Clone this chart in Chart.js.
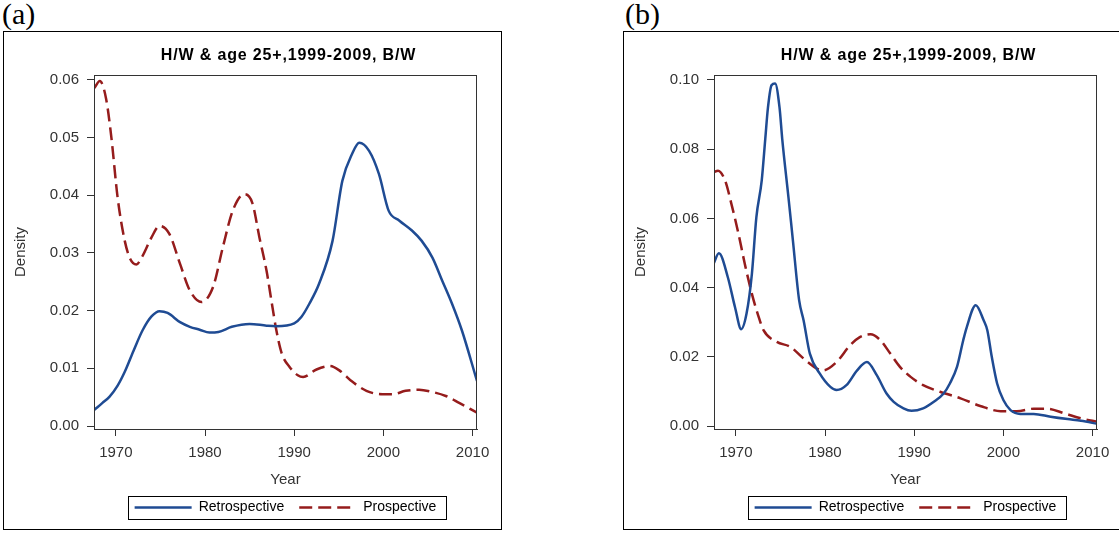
<!DOCTYPE html>
<html><head><meta charset="utf-8">
<script src="https://cdn.jsdelivr.net/npm/chart.js@4.4.1/dist/chart.umd.min.js"></script>
<style>
html,body{margin:0;padding:0;background:#fff;width:1119px;height:533px;overflow:hidden;position:relative;}
.panel{position:absolute;top:31px;width:497px;height:497px;border:1px solid #000;}
.panel canvas{display:block;}
.lab{position:absolute;top:-1px;font-family:"Liberation Serif","Times New Roman",serif;font-size:30px;line-height:30px;color:#000;}
</style></head><body>
<div class="lab" style="left:2px">(a)</div>
<div class="lab" style="left:625px">(b)</div>
<div class="panel" style="left:3px"><canvas id="ca" width="497" height="497"></canvas></div>
<div class="panel" style="left:623px"><canvas id="cb" width="497" height="497"></canvas></div>
<script>
// ---- data ----
const chartTitle = 'H/W & age 25+,1999-2009, B/W';
const seriesNames = ['Retrospective', 'Prospective'];
const xTickValues = [1970, 1980, 1990, 2000, 2010];
const yTicksA = [0, 0.01, 0.02, 0.03, 0.04, 0.05, 0.06];
const yTicksB = [0, 0.02, 0.04, 0.06, 0.08, 0.10];

const aRetroYears = [1967.6,1968.5,1969.3,1970.2,1971.0,1972.0,1973.0,1974.0,1974.9,1975.8,1977.2,1978.3,1979.4,1980.5,1981.5,1983.0,1985.0,1986.9,1988.0,1990.0,1990.8,1991.7,1992.8,1994.3,1995.4,1996.5,1997.3,1998.4,1999.5,2000.6,2001.8,2003.2,2004.3,2005.5,2006.6,2007.7,2008.8,2010.5];
const aRetroDensity = [0.0028,0.0040,0.0051,0.0070,0.0094,0.0131,0.0166,0.0190,0.0199,0.0196,0.0180,0.0172,0.0167,0.0162,0.0163,0.0172,0.0177,0.0174,0.0173,0.0178,0.0189,0.0212,0.0247,0.0321,0.0425,0.0472,0.0491,0.0477,0.0437,0.0373,0.0356,0.0339,0.0321,0.0292,0.0252,0.0212,0.0166,0.0078];

const aProspYears = [1967.6,1968.2,1968.9,1969.5,1970.2,1971.0,1971.6,1972.3,1973.0,1974.0,1974.9,1976.0,1977.2,1978.3,1979.6,1980.9,1982.0,1983.1,1984.4,1985.3,1986.1,1986.9,1987.5,1988.0,1988.6,1989.5,1990.4,1991.0,1992.5,1994.0,1995.1,1996.5,1998.1,1999.9,2001.0,2002.5,2004.0,2005.5,2007.0,2008.5,2010.5];
const aProspDensity = [0.0586,0.0598,0.0568,0.0500,0.0396,0.0321,0.0290,0.0280,0.0295,0.0327,0.0347,0.0333,0.0281,0.0235,0.0215,0.0241,0.0310,0.0373,0.0402,0.0387,0.0327,0.0269,0.0212,0.0166,0.0126,0.0102,0.0088,0.0085,0.0098,0.0104,0.0096,0.0077,0.0061,0.0055,0.0055,0.0061,0.0063,0.0059,0.0052,0.0040,0.0023];

const bRetroYears = [1967.5,1968.1,1969.1,1969.9,1970.6,1971.2,1971.8,1972.3,1972.9,1973.3,1973.6,1974.0,1974.4,1974.9,1975.2,1975.9,1976.4,1977.1,1977.6,1978.3,1979.4,1980.6,1981.3,1982.4,1983.6,1984.7,1985.8,1986.9,1987.7,1988.8,1989.7,1991.0,1992.2,1993.3,1994.0,1994.8,1995.5,1995.9,1996.9,1997.8,1998.2,1998.7,1999.3,2000.0,2000.8,2001.9,2003.4,2005.3,2007.2,2008.7,2010.6];
const bRetroDensity = [0.0469,0.0499,0.0430,0.0344,0.0280,0.0325,0.0440,0.0603,0.0709,0.0830,0.0920,0.0985,0.0990,0.0920,0.0830,0.0661,0.0536,0.0363,0.0305,0.0209,0.0152,0.0113,0.0104,0.0118,0.0161,0.0185,0.0147,0.0094,0.0070,0.0051,0.0044,0.0051,0.0070,0.0094,0.0123,0.0171,0.0248,0.0286,0.0349,0.0305,0.0277,0.0200,0.0123,0.0075,0.0046,0.0035,0.0035,0.0027,0.0020,0.0015,0.0006];

const bProspYears = [1967.5,1968.0,1968.8,1969.5,1970.3,1971.0,1971.8,1972.5,1973.1,1974.6,1976.1,1977.6,1979.1,1979.8,1981.3,1982.8,1983.9,1985.1,1986.2,1987.3,1988.4,1989.6,1991.0,1992.9,1995.2,1997.4,1999.7,2001.5,2003.4,2004.9,2006.8,2008.7,2010.6];
const bProspDensity = [0.0733,0.0738,0.0709,0.0642,0.0555,0.0469,0.0382,0.0320,0.0277,0.0243,0.0229,0.0195,0.0166,0.0161,0.0185,0.0233,0.0257,0.0265,0.0248,0.0210,0.0171,0.0142,0.0118,0.0099,0.0080,0.0058,0.0043,0.0043,0.0050,0.0050,0.0037,0.0022,0.0012];

// ---- drawing ----
Chart.defaults.font.family = '"Liberation Sans", Arial, Helvetica, sans-serif';
Chart.defaults.color = '#333';
const BLUE = '#1f4b93';
const RED = '#951c1c';

const toPts = (xs, ys) => xs.map((x, i) => ({x: x, y: ys[i]}));

const framePlugin = {
  id: 'frameBox',
  afterDraw(chart) {
    const ctx = chart.ctx, a = chart.chartArea;
    ctx.save();
    ctx.strokeStyle = '#333';
    ctx.lineWidth = 1;
    ctx.strokeRect(Math.round(a.left) + 0.5, Math.round(a.top) + 0.5, Math.round(a.right - a.left) - 1, Math.round(a.bottom - a.top));
    const lg = chart.legend;
    if (lg && lg.legendHitBoxes && lg.legendHitBoxes.length) {
      const hb = lg.legendHitBoxes;
      const first = hb[0], last = hb[hb.length - 1];
      const left = first.left - 7;
      const right = last.left + last.width + 9;
      const cy = first.top + 7;
      ctx.strokeStyle = '#000';
      ctx.strokeRect(Math.round(left) + 0.5, Math.round(cy - 11.5) + 0.5, Math.round(right - left), 23);
    }
    ctx.restore();
  }
};

function legendLabels(chart) {
  const items = Chart.defaults.plugins.legend.labels.generateLabels(chart);
  items.forEach(it => {
    const ds = chart.data.datasets[it.datasetIndex];
    it.lineDash = ds.borderDash || [];
    it.lineWidth = ds.borderWidth;
    it.strokeStyle = ds.borderColor;
    it.fillStyle = ds.borderColor;
  });
  return items;
}

function makePanel(id, retroYears, retroVals, prospYears, prospVals, yTicks, yMin, yMax) {
  const chart = new Chart(document.getElementById(id), {
    type: 'line',
    data: {
      datasets: [
        {label: seriesNames[0], data: toPts(retroYears, retroVals), borderColor: BLUE, backgroundColor: BLUE,
         borderWidth: 2.5, pointRadius: 0, cubicInterpolationMode: 'monotone', fill: false},
        {label: seriesNames[1], data: toPts(prospYears, prospVals), borderColor: RED, backgroundColor: RED,
         borderWidth: 2.5, borderDash: [13, 6], pointRadius: 0, cubicInterpolationMode: 'monotone', fill: false}
      ]
    },
    options: {
      responsive: false,
      animation: false,
      events: [],
      layout: {padding: {left: 0, right: 24, top: 0, bottom: 4.5}},
      plugins: {
        tooltip: {enabled: false},
        title: {display: true, text: chartTitle, color: '#000', fullSize: false,
                font: {size: 16, weight: 'bold', lineHeight: 1.2}, padding: {top: 14, bottom: 9.8}},
        legend: {display: true, position: 'bottom', fullSize: false,
                 labels: {usePointStyle: true, pointStyle: 'line', pointStyleWidth: 57, padding: 15,
                          color: '#000', font: {size: 14}, generateLabels: legendLabels}}
      },
      scales: {
        x: {
          type: 'linear', min: 1967.55, max: 2010.5,
          afterFit: s => { s.height = 56.5; },
          afterBuildTicks: s => { s.ticks = xTickValues.map(v => ({value: v})); },
          ticks: {padding: 8, font: {size: 15}, color: '#333', autoSkip: false, maxRotation: 0,
                  callback: v => String(v)},
          grid: {drawOnChartArea: false, drawTicks: true, tickLength: 7, color: '#333'},
          border: {display: true, color: '#333', width: 1},
          title: {display: true, text: 'Year', color: '#333', font: {size: 15, lineHeight: 1}, padding: {top: 0, bottom: -2}}
        },
        y: {
          type: 'linear', min: yMin, max: yMax,
          afterFit: s => { s.width = 90; },
          afterBuildTicks: s => { s.ticks = yTicks.map(v => ({value: v})); },
          ticks: {padding: 8, font: {size: 15}, color: '#333', callback: v => Number(v).toFixed(2)},
          grid: {drawOnChartArea: false, drawTicks: true, tickLength: 7, color: '#333'},
          border: {display: true, color: '#333', width: 1},
          title: {display: true, text: 'Density', color: '#333', font: {size: 15, lineHeight: 1.2}, padding: {top: 8, bottom: 0}}
        }
      }
    },
    plugins: [framePlugin]
  });
  const tb = chart.titleBlock;
  if (tb) {
    const orig = tb.draw.bind(tb);
    tb.draw = function () {
      const c = this.ctx; c.save();
      try { c.letterSpacing = '0.85px'; } catch (e) {}
      c.translate(3, 0);
      orig(); c.restore();
    };
    chart.draw();
  }
  return chart;
}

makePanel('ca', aRetroYears, aRetroDensity, aProspYears, aProspDensity, yTicksA, -0.00052, 0.06086);
makePanel('cb', bRetroYears, bRetroDensity, bProspYears, bProspDensity, yTicksB, -0.00086, 0.10144);
</script>
</body></html>
